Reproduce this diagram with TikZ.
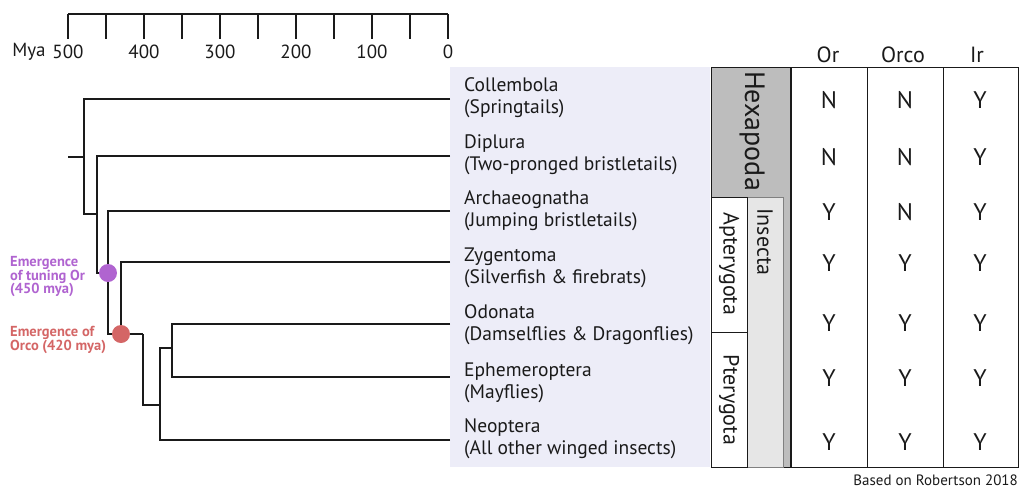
\documentclass[tikz,border=0pt]{standalone}
\usepackage{fontspec}
\setmainfont{PT Sans}
\definecolor{panel}{HTML}{EDEDF8}
\definecolor{hexa}{HTML}{BDBDBD}
\definecolor{insecta}{HTML}{E6E6E6}
\definecolor{orpurple}{HTML}{B064D0}
\definecolor{orcored}{HTML}{D46666}
\definecolor{ink}{HTML}{1A1A1A}
\tikzset{
  br/.style={line width=2pt, draw=ink},
  tick/.style={line width=2pt, draw=ink},
  ticklab/.style={font=\fontsize{19}{21}\selectfont, text=ink, inner sep=0pt},
  taxon/.style={font=\fontsize{19.5}{22}\selectfont, text=ink, align=left, anchor=west, inner sep=0pt},
  cell/.style={font=\fontsize{24}{26}\selectfont, text=ink, inner sep=0pt},
  colhead/.style={font=\fontsize{22}{24}\selectfont, text=ink, inner sep=0pt},
  grp/.style={font=\fontsize{22}{24}\selectfont, text=ink, inner sep=0pt, rotate=-90},
  evt/.style={font=\bfseries\fontsize{14.5}{13.5}\selectfont, align=left, anchor=west, inner sep=0pt},
  thin/.style={line width=0.8pt, draw=ink},
}
\begin{document}
\begin{tikzpicture}[x=1pt,y=-1pt]
\useasboundingbox (0,0) rectangle (1021,488);
% time scale
\coordinate (s0) at (68,14);
\coordinate (s1) at (448,14);
\draw[tick] (s0) -- (s1);
\foreach \i in {0,...,10}{
  \coordinate (t\i) at ({68+38*\i},14);
  \coordinate (tb\i) at ({68+38*\i},39);
  \draw[tick] (t\i) -- (tb\i);
}
\node[ticklab] (mya) at (29,52) {Mya};
\foreach \i/\v in {0/500,2/400,4/300,6/200,8/100,10/0}{
  \node[ticklab] (lab\i) at ({68+38*\i},52) {\v};
}
% panel
\fill[panel] (450,67) rectangle (710,467);
% tree coordinates
\coordinate (L1) at (450,99);
\coordinate (L2) at (450,156);
\coordinate (L3) at (450,211);
\coordinate (L4) at (450,262);
\coordinate (L5) at (450,324);
\coordinate (L6) at (450,377);
\coordinate (L7) at (450,440);
\coordinate (r0) at (68,157);
\coordinate (ra) at (84,157);
\coordinate (n1b) at (84,214);
\coordinate (n2m) at (97,214);
\coordinate (n2b) at (97,273);
\coordinate (n3m) at (108,273);
\coordinate (n3b) at (108,334);
\coordinate (n4b) at (121,334);
\coordinate (n5t) at (143,334);
\coordinate (n6m) at (160,405);
\coordinate (n6t) at (160,348);
\coordinate (n7m) at (172,348);
\coordinate (n7b) at (172,377);
\draw[br] (r0) -- (ra);
\draw[br] (L1) -| (n1b) -- (n2m);
\draw[br] (L2) -| (n2b) -- (n3m);
\draw[br] (L3) -| (n3b) -- (n5t);
\draw[br] (L4) -| (n4b);
\draw[br] (n5t) |- (n6m);
\draw[br] (L7) -| (n6t) -- (n7m);
\draw[br] (L5) -| (n7b) -- (L6);
% events
\fill[orpurple] (n3m) circle (9);
\fill[orcored] (n4b) circle (9);
\node[evt, text=orpurple] (evOr) at (10,277) {Emergence\\of tuning Or\\(450 mya)};
\node[evt, text=orcored] (evOrco) at (10,340) {Emergence of\\Orco (420 mya)};
% taxa
\node[taxon] (c1) at (464,98) {Collembola\\(Springtails)};
\node[taxon] (c2) at (464,155) {Diplura\\(Two-pronged bristletails)};
\node[taxon] (c3) at (464,211) {Archaeognatha\\(Jumping bristletails)};
\node[taxon] (c4) at (464,268) {Zygentoma\\(Silverfish \& firebrats)};
\node[taxon] (c5) at (464,325) {Odonata\\(Damselflies \& Dragonflies)};
\node[taxon] (c6) at (464,383) {Ephemeroptera\\(Mayflies)};
\node[taxon] (c7) at (464,439) {Neoptera\\(All other winged insects)};
% group boxes
\filldraw[fill=hexa, thin] (711,67) rectangle (790,467);
\filldraw[fill=insecta, draw=gray, line width=0.8pt] (747,197) rectangle (783,467);
\filldraw[fill=white, thin] (711,197) rectangle (747,332);
\filldraw[fill=white, thin] (711,332) rectangle (747,467);
\node[grp, font=\fontsize{28}{30}\selectfont] (hexa) at (752,131) {Hexapoda};
\node[grp] (apt) at (729,264) {Apterygota};
\node[grp] (ins) at (765,242) {Insecta};
\node[grp] (pte) at (729,400) {Pterygota};
% table
\draw[thin] (791,67) rectangle (1018,467);
\coordinate (v1t) at (867,67);
\coordinate (v1b) at (867,467);
\coordinate (v2t) at (943,67);
\coordinate (v2b) at (943,467);
\draw[thin] (v1t) -- (v1b);
\draw[thin] (v2t) -- (v2b);
\node[colhead] (hOr) at (828,55) {Or};
\node[colhead] (hOrco) at (903,55) {Orco};
\node[colhead] (hIr) at (977,55) {Ir};
\foreach \y/\a/\b/\c [count=\r] in {100/N/N/Y,157/N/N/Y,212/Y/N/Y,263/Y/Y/Y,323/Y/Y/Y,378/Y/Y/Y,442/Y/Y/Y}{
  \node[cell] (a\r) at (829,\y) {\a};
  \node[cell] (b\r) at (905,\y) {\b};
  \node[cell] (c\r x) at (980,\y) {\c};
}
\node[font=\fontsize{15}{17}\selectfont, text=ink, anchor=east, inner sep=0pt] (credit) at (1018,480) {Based on Robertson 2018};
\end{tikzpicture}
\end{document}
